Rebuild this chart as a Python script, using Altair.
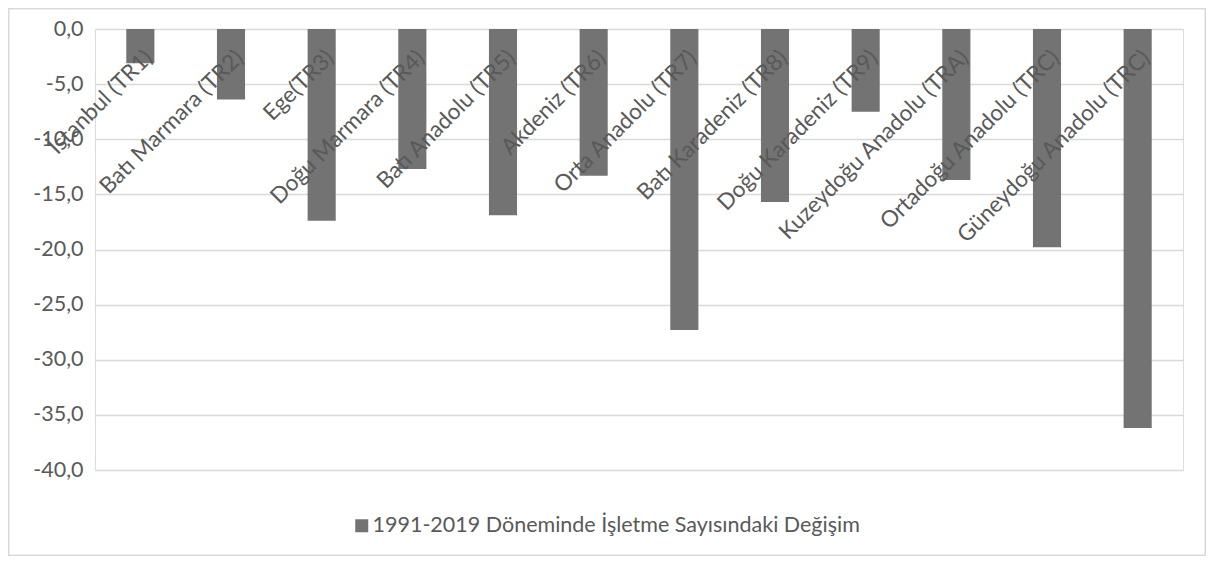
import altair as alt
import pandas as pd

keys = ["r01", "r02", "r03", "r04", "r05", "r06", "r07", "r08", "r09", "r10", "r11", "r12"]
labels = [
    "İstanbul (TR1)", "Batı Marmara (TR2)", "Ege(TR3)", "Doğu Marmara (TR4)",
    "Batı Anadolu (TR5)", "Akdeniz (TR6)", "Orta Anadolu (TR7)", "Batı Karadeniz (TR8)",
    "Doğu Karadeniz (TR9)", "Kuzeydoğu Anadolu (TRA)", "Ortadoğu Anadolu (TRC)",
    "Güneydoğu Anadolu (TRC)",
]
values = [-3.1, -6.4, -17.4, -12.7, -16.9, -13.3, -27.3, -15.7, -7.5, -13.7, -19.8, -36.2]
series = "1991-2019 Döneminde İşletme Sayısındaki Değişim"
y_ticks = [0, -5, -10, -15, -20, -25, -30, -35, -40]

df = pd.DataFrame({"key": keys, "label": labels, "value": values, "series": [series] * len(keys)})

FONT = "Lato"
TXT = "#595959"
BAR = "#737373"
GRID = "#d9d9d9"
FS = 21.5
FSL = 22.5

W, H = 1088, 441
PL, PT, PR, PB = 87, 21, 23, 86

xenc = alt.X("key:N", sort=None, axis=None,
             scale=alt.Scale(paddingInner=0.69, paddingOuter=0.345))

border = alt.Chart(pd.DataFrame({"b": [1]})).mark_rect(
    fill="white", fillOpacity=0, stroke=GRID, strokeWidth=1.5
).encode(
    x=alt.value(-PL + 0.75), x2=alt.value(W + PR - 0.75),
    y=alt.value(-PT + 0.75), y2=alt.value(H + PB - 0.75),
)

bars = alt.Chart(df).mark_bar().encode(
    x=xenc,
    y=alt.Y("value:Q", scale=alt.Scale(domain=[-40, 0], nice=False),
            axis=alt.Axis(values=y_ticks, title=None, grid=True, gridColor=GRID, gridWidth=1.5,
                          domain=False, ticks=False, labelPadding=12,
                          labelExpr="(datum.value < 0 ? '-' : '') + replace(format(abs(datum.value), '.1f'), '.', ',')",
                          labelFont=FONT, labelFontSize=FS, labelColor=TXT)),
    color=alt.Color("series:N", scale=alt.Scale(range=[BAR]),
                    legend=alt.Legend(title=None, orient="none", legendX=256, legendY=486,
                                      symbolType="square", symbolSize=169, symbolStrokeWidth=0,
                                      labelFont=FONT, labelFontSize=FS, labelColor=TXT,
                                      labelOffset=0, padding=0, labelLimit=800)),
)

texts = alt.Chart(df).mark_text(
    angle=315, align="right", baseline="top", font=FONT, fontSize=FSL, color=TXT, dx=3, dy=-2
).encode(
    x=xenc,
    y=alt.value(21),
    text="label:N",
)

chart = alt.layer(border, bars, texts).properties(
    width=W, height=H,
    padding={"left": PL, "top": PT, "right": PR, "bottom": PB},
    autosize=alt.AutoSizeParams(type="none"),
).configure_view(strokeWidth=0).configure(background="white")

chart.save("out.html", embed_options={"renderer": "svg", "actions": False})
